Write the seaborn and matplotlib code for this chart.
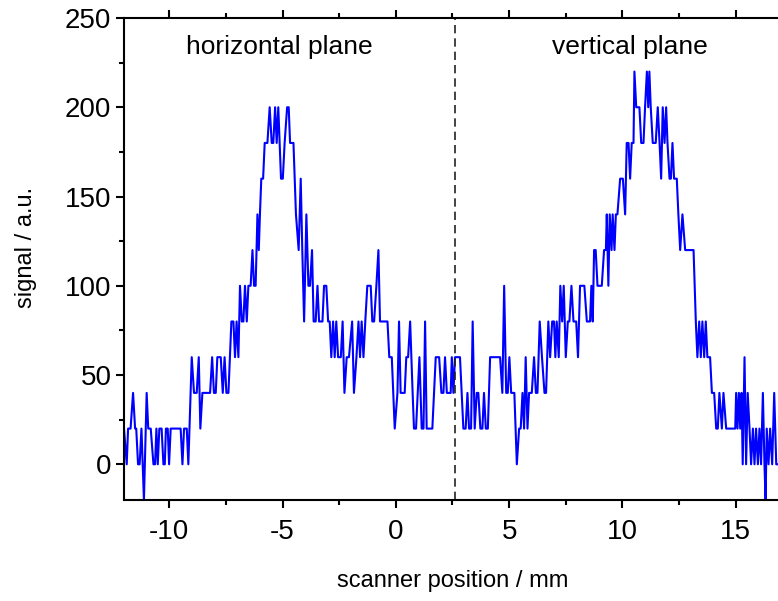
import matplotlib
matplotlib.use("Agg")
import matplotlib.pyplot as plt
import seaborn as sns
import pandas as pd
from matplotlib.ticker import MultipleLocator

# scanner position (mm) and signal (a.u.)
position = [
    -12.00, -11.88, -11.82, -11.71, -11.60, -11.51, -11.46, -11.38, -11.31, -11.23,
    -11.12, -11.00, -10.93, -10.82, -10.70, -10.63, -10.57, -10.51, -10.44, -10.34,
    -10.26, -10.20, -10.15, -10.07, -10.01, -9.94, -9.50, -9.42, -9.35, -9.23,
    -9.16, -9.01, -8.91, -8.79, -8.70, -8.63, -8.54, -8.20, -8.11, -8.03,
    -7.95, -7.88, -7.73, -7.64, -7.56, -7.48, -7.39, -7.26, -7.17, -7.10,
    -7.03, -6.95, -6.88, -6.80, -6.73, -6.66, -6.58, -6.51, -6.41, -6.33,
    -6.26, -6.19, -6.11, -6.05, -6.00, -5.94, -5.86, -5.79, -5.67, -5.57,
    -5.48, -5.41, -5.33, -5.26, -5.19, -5.13, -5.07, -4.99, -4.91, -4.80,
    -4.73, -4.67, -4.52, -4.41, -4.29, -4.20, -4.13, -4.05, -3.95, -3.86,
    -3.79, -3.70, -3.63, -3.54, -3.46, -3.39, -3.24, -3.17, -3.07, -2.99,
    -2.92, -2.85, -2.77, -2.70, -2.63, -2.55, -2.43, -2.35, -2.27, -2.17,
    -2.07, -1.93, -1.85, -1.74, -1.65, -1.58, -1.51, -1.43, -1.35, -1.26,
    -1.11, -1.04, -0.96, -0.86, -0.77, -0.70, -0.37, -0.29, -0.18, -0.05,
    0.07, 0.14, 0.21, 0.39, 0.46, 0.54, 0.63, 0.74, 0.80, 0.89,
    1.04, 1.14, 1.22, 1.29, 1.36, 1.61, 1.76, 1.91, 2.01, 2.10,
    2.17, 2.25, 2.42, 2.47, 2.54, 2.61, 2.72, 2.83, 2.98, 3.08,
    3.16, 3.23, 3.32, 3.39, 3.48, 3.57, 3.64, 3.73, 3.82, 3.89,
    3.97, 4.06, 4.16, 4.60, 4.70, 4.78, 4.87, 4.94, 5.01, 5.09,
    5.23, 5.34, 5.44, 5.51, 5.59, 5.66, 5.73, 5.81, 5.88, 6.00,
    6.10, 6.18, 6.25, 6.35, 6.45, 6.56, 6.63, 6.73, 6.81, 6.90,
    6.98, 7.04, 7.10, 7.19, 7.26, 7.34, 7.41, 7.50, 7.59, 7.66,
    7.75, 7.84, 7.96, 8.04, 8.13, 8.32, 8.43, 8.57, 8.63, 8.69,
    8.75, 8.82, 8.90, 9.09, 9.19, 9.27, 9.31, 9.38, 9.44, 9.52,
    9.57, 9.65, 9.71, 9.78, 9.90, 10.02, 10.12, 10.19, 10.27, 10.34,
    10.41, 10.49, 10.53, 10.61, 10.75, 10.83, 10.93, 11.00, 11.08, 11.14,
    11.19, 11.25, 11.34, 11.47, 11.56, 11.64, 11.71, 11.78, 11.86, 11.93,
    11.99, 12.08, 12.14, 12.21, 12.28, 12.40, 12.47, 12.55, 12.65, 12.77,
    13.14, 13.24, 13.31, 13.39, 13.46, 13.53, 13.61, 13.68, 13.75, 13.87,
    13.95, 14.05, 14.14, 14.21, 14.28, 14.39, 14.46, 14.58, 14.68, 14.98,
    15.02, 15.08, 15.14, 15.20, 15.26, 15.31, 15.39, 15.46, 15.53, 15.61,
    15.68, 15.76, 15.83, 15.90, 15.98, 16.05, 16.12, 16.20, 16.27, 16.32,
    16.37, 16.45, 16.52, 16.61, 16.70, 16.79, 16.88,
]
signal = [
    20, 0, 20, 20, 40, 20, 20, 0, 0, 20,
    -20, 40, 20, 20, 0, 0, 20, 0, 20, 20,
    0, 0, 20, 20, 0, 20, 20, 0, 20, 20,
    0, 60, 40, 40, 60, 20, 40, 40, 60, 40,
    40, 60, 60, 40, 60, 40, 40, 80, 80, 60,
    80, 60, 100, 80, 80, 100, 80, 100, 100, 120,
    100, 100, 140, 120, 140, 160, 160, 180, 180, 200,
    180, 180, 200, 180, 200, 180, 160, 160, 180, 200,
    200, 180, 180, 140, 120, 160, 120, 80, 140, 100,
    100, 120, 80, 80, 100, 80, 80, 100, 100, 80,
    80, 60, 80, 60, 80, 60, 60, 80, 40, 60,
    60, 80, 40, 60, 80, 60, 80, 60, 80, 100,
    100, 80, 80, 100, 120, 80, 80, 60, 60, 20,
    40, 80, 40, 40, 60, 60, 80, 40, 20, 20,
    60, 20, 20, 80, 20, 20, 60, 60, 40, 40,
    60, 40, 40, 60, 40, 60, 60, 60, 20, 20,
    40, 20, 20, 80, 20, 40, 40, 20, 20, 40,
    20, 20, 60, 60, 40, 100, 40, 40, 60, 40,
    40, 0, 20, 20, 40, 20, 60, 20, 40, 40,
    60, 40, 40, 80, 60, 40, 40, 80, 60, 80,
    80, 60, 80, 60, 100, 80, 100, 60, 80, 80,
    100, 80, 80, 60, 100, 100, 80, 80, 100, 80,
    120, 120, 100, 100, 120, 120, 140, 100, 140, 120,
    140, 120, 140, 140, 160, 160, 140, 180, 180, 160,
    180, 180, 220, 200, 200, 180, 180, 200, 220, 200,
    220, 200, 180, 180, 200, 180, 160, 200, 180, 200,
    180, 160, 160, 180, 160, 160, 140, 120, 140, 120,
    120, 80, 60, 80, 60, 80, 60, 80, 60, 60,
    40, 40, 20, 20, 40, 20, 40, 20, 20, 20,
    40, 20, 40, 20, 40, 0, 60, 0, 40, 20,
    0, 20, 0, 20, 0, 20, 0, 40, 0, -20,
    20, 0, 20, 0, 40, 0, 0,
]
x_ticks = [-10, -5, 0, 5, 10, 15]
y_ticks = [0, 50, 100, 150, 200, 250]
divider_x = 2.6
plane_labels = ["horizontal plane", "vertical plane"]
plane_label_x = [-5.16, 10.34]
plane_label_y = [233.5, 233.5]

df = pd.DataFrame({"position": position, "signal": signal})

sns.set_style("ticks")
plt.rcParams["font.family"] = ["Liberation Sans", "DejaVu Sans"]
plt.rcParams["axes.unicode_minus"] = False

fig = plt.figure(figsize=(7.78, 6.01), dpi=100)
W, H = 778, 601
left, right, top, bottom = 124, 781, 18, 500
ax = fig.add_axes([left / W, (H - bottom) / H, (right - left) / W, (bottom - top) / H])

sns.lineplot(data=df, x="position", y="signal", ax=ax, color="#0000ff",
             linewidth=1.5, estimator=None, sort=False)

ax.axvline(divider_x, color="#222222", linewidth=1.2, linestyle=(0, (5, 3)))

for lab, lx, ly in zip(plane_labels, plane_label_x, plane_label_y):
    ax.text(lx, ly, lab, ha="center", va="center", fontsize=19, color="black")

ax.set_xlim(-12, 17)
ax.set_ylim(-20, 250)
ax.set_xticks(x_ticks)
ax.set_yticks(y_ticks)
ax.xaxis.set_minor_locator(MultipleLocator(2.5))
ax.yaxis.set_minor_locator(MultipleLocator(25))

ax.spines["right"].set_visible(False)
for s in ["left", "top", "bottom"]:
    ax.spines[s].set_linewidth(1.5)
    ax.spines[s].set_color("black")

ax.tick_params(axis="both", which="major", direction="out", length=6, width=1.5,
               labelsize=20, color="black", labelcolor="black")
ax.tick_params(axis="both", which="minor", direction="out", length=3.5, width=1.5,
               color="black")
ax.tick_params(axis="x", which="both", top=True, labeltop=False, pad=8)
ax.tick_params(axis="y", which="both", right=False, pad=3)

ax.set_xlabel("scanner position / mm", fontsize=17, color="black")
ax.set_ylabel("signal / a.u.", fontsize=17, color="black")
ax.xaxis.set_label_coords(0.5, -0.145)
ax.yaxis.set_label_coords(-0.133, 0.525)

fig.savefig("out.png", dpi=100)
